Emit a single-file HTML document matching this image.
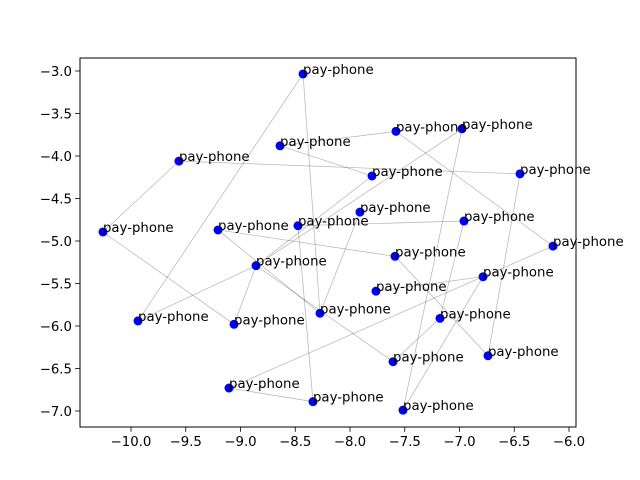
<!DOCTYPE html>
<html><head><meta charset="utf-8"><style>
body{margin:0;background:#fff;}
svg{display:block;font-family:"DejaVu Sans","Liberation Sans",sans-serif;}
</style></head><body>
<svg id="chart" width="640" height="480" viewBox="0 0 640 480" xmlns="http://www.w3.org/2000/svg">
<rect width="640" height="480" fill="#fff"/>
<g id="edges"></g>
<g id="nodes"></g>
<g id="labels"></g>
<rect x="80" y="58" width="496" height="369" fill="none" stroke="#000" stroke-width="1"/>
<g id="xticks"></g>
<g id="yticks"></g>
</svg>
<script>
const nodeX = [-8.429,-9.562,-8.639,-7.58,-6.977,-6.447,-7.799,-10.256,-9.205,-8.475,-7.909,-6.959,-6.146,-7.589,-8.858,-6.785,-7.763,-9.936,-9.059,-8.274,-7.178,-6.74,-7.607,-9.105,-8.338,-7.516];
const nodeY = [-3.035,-4.06,-3.88,-3.71,-3.68,-4.21,-4.235,-4.894,-4.87,-4.82,-4.66,-4.765,-5.06,-5.18,-5.29,-5.42,-5.59,-5.94,-5.98,-5.85,-5.91,-6.35,-6.42,-6.73,-6.89,-6.99];
const nodeLabels = Array(26).fill("pay-phone");
const edgeFrom = [1,1,2,2,3,3,4,5,5,6,7,10,10,9,9,8,15,15,24,24,11,14,16,16,16,21,12,15];
const edgeTo   = [18,20,8,6,4,7,13,15,26,22,15,12,25,14,20,19,18,19,25,16,20,22,17,26,13,23,21,23];
const xTicks = [-10.0,-9.5,-9.0,-8.5,-8.0,-7.5,-7.0,-6.5,-6.0];
const yTicks = [-3.0,-3.5,-4.0,-4.5,-5.0,-5.5,-6.0,-6.5,-7.0];

const NS="http://www.w3.org/2000/svg";
const X0=80,X1=576,Y0=58,Y1=427;
const xMin=-10.4658,xMax=-5.9361,yMax=-2.8471,yMin=-7.1882;
function sx(v){return X0+(v-xMin)/(xMax-xMin)*(X1-X0);}
function sy(v){return Y0+(yMax-v)/(yMax-yMin)*(Y1-Y0);}
function mk(t,a,p){const e=document.createElementNS(NS,t);for(const k in a)e.setAttribute(k,a[k]);p.appendChild(e);return e;}
const gE=document.getElementById('edges'),gN=document.getElementById('nodes'),gL=document.getElementById('labels');
for(let i=0;i<edgeFrom.length;i++){
  const a=edgeFrom[i]-1,b=edgeTo[i]-1;
  const l=mk('line',{x1:sx(nodeX[a]),y1:sy(nodeY[a]),x2:sx(nodeX[b]),y2:sy(nodeY[b]),stroke:'#000','stroke-opacity':0.3,'stroke-width':0.7},gE);
  
  
}
for(let i=0;i<nodeX.length;i++){
  const c=mk('circle',{cx:sx(nodeX[i]),cy:sy(nodeY[i]),r:4.5,fill:'#0000ff'},gN);
  
  
  const t=mk('text',{x:sx(nodeX[i]),y:sy(nodeY[i]),'font-size':'13.3px',fill:'#000'},gL);
  t.textContent=nodeLabels[i];
  
  
}
const gX=document.getElementById('xticks'),gY=document.getElementById('yticks');
xTicks.forEach(v=>{
  const x=sx(v);
  const l=mk('line',{x1:x,y1:Y1,x2:x,y2:Y1+4.9,stroke:'#000','stroke-width':0.8},gX);
  
  
  const t=mk('text',{x:x,y:Y1+19,'font-size':'13.3px','text-anchor':'middle'},gX);
  t.textContent='\u2212'+Math.abs(v).toFixed(1);
  
  
});
yTicks.forEach(v=>{
  const y=sy(v);
  const l=mk('line',{x1:X0-4.9,y1:y,x2:X0,y2:y,stroke:'#000','stroke-width':0.8},gY);
  
  
  const t=mk('text',{x:X0-8,y:y+5,'font-size':'13.3px','text-anchor':'end'},gY);
  t.textContent='\u2212'+Math.abs(v).toFixed(1);
  
  
});
</script>
</body></html>
